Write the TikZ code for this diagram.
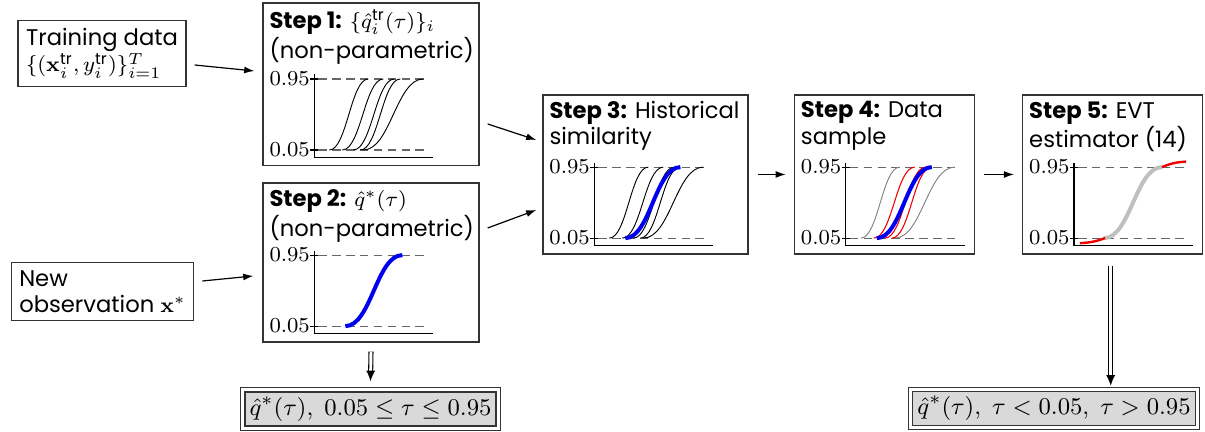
\documentclass[tikz,border=0pt]{standalone}
\usepackage{amsmath,amssymb}
\usepackage[no-math]{fontspec}
\setmainfont{Poppins}
\usetikzlibrary{arrows.meta,positioning,calc}
\definecolor{qblue}{HTML}{0000F0}
\definecolor{qred}{HTML}{F00000}
\tikzset{
  inbox/.style={draw=black!80,line width=.5pt,align=left,inner sep=3pt},
  stepbox/.style={draw=black!80,line width=.5pt,minimum width=#1,minimum height=59.6pt},
  title/.style={anchor=north west,align=left,inner sep=2.5pt},
  outbox/.style={draw=black!80,double,double distance=1.1pt,line width=.45pt,fill=black!15,
    inner sep=2.5pt,font=\fontsize{9.4}{11}\selectfont},
  flow/.style={-{Latex[length=3.8pt,width=2.6pt]},line width=.45pt},
  dflow/.style={double,double distance=1.1pt,line width=.4pt,-{Latex[length=4pt,width=3.4pt]}},
  guide/.style={dashed,dash pattern=on 3.2pt off 2pt,black!60,line width=.45pt},
  axis/.style={black,line width=.45pt},
  ticklabel/.style={anchor=east,inner sep=0pt},
  thincurve/.style={black,line width=.35pt},
  graycurve/.style={black!50,line width=.35pt},
  redcurve/.style={qred,line width=.4pt},
  bluecurve/.style={qblue,line width=1.5pt},
  evtcurve/.style={black!25,line width=1.5pt},
  tailcurve/.style={qred,line width=.9pt}
}
% one quantile curve between the 0.05 and 0.95 levels
\newcommand{\qcurve}[3][thincurve]{%
  \pgfmathsetmacro\cw{0.45*(#3-#2)}%
  \draw[#1] (#2,-7.5) .. controls +(\cw,0) and +(-\cw,0) .. (#3,-78.5);}
% axes with the two dashed levels, placed in the lower part of a step box
\newcommand{\quantplot}[2]{%
  \begin{scope}[shift={($(#1.south west)+(52,-9)$)}]
    \draw[guide] (4,-7.5) -- (111,-7.5);
    \draw[guide] (4,-78.5) -- (111,-78.5);
    \draw[axis] (0,-83) -- (0,0) -- (119,0);
    \draw[axis] (-4,-7.5) -- (4,-7.5);
    \draw[axis] (-4,-78.5) -- (4,-78.5);
    \node[ticklabel] (#1lo) at (-4,-7.5) {$0.05$};
    \node[ticklabel] (#1hi) at (-4,-78.5) {$0.95$};
    #2
  \end{scope}}

\begin{document}
\begin{tikzpicture}[x=0.375pt,y=-0.375pt,font=\fontsize{8.5}{9.8}\selectfont]
  \useasboundingbox (0,0) rectangle (1205,432);
  % inputs
  \node[inbox] (train) at (102,53.5) {Training data\\$\{(\mathbf{x}_i^{\text{tr}},y_i^{\text{tr}})\}_{i=1}^T$};
  \node[inbox] (new) at (102.5,291.5) {New\\observation $\mathbf{x}^*$};
  % steps
  \node[stepbox=81pt,minimum height=61pt] (s1) at (371,84.5) {};
  \node[stepbox=81pt] (s2) at (371,262.5) {};
  \node[stepbox=76.9pt] (s3) at (645.5,174.5) {};
  \node[stepbox=67.5pt,right=16.9pt of s3] (s4) {};
  \node[stepbox=67.5pt,right=17.6pt of s4] (s5) {};
  \node[title] (t1) at (s1.north west) {\textbf{Step 1:} $\{\hat q_i^{\text{tr}}(\tau)\}_i$\\(non-parametric)};
  \node[title] (t2) at (s2.north west) {\textbf{Step 2:} $\hat q^*(\tau)$\\(non-parametric)};
  \node[title] (t3) at (s3.north west) {\textbf{Step 3:} Historical\\similarity};
  \node[title] (t4) at (s4.north west) {\textbf{Step 4:} Data\\sample};
  \node[title] (t5) at (s5.north west) {\textbf{Step 5:} EVT\\estimator (14)};
  % plots
  \quantplot{s1}{\foreach \a/\b in {15/54,28/69,39/80,46/86,49/109} {\qcurve{\a}{\b}}}
  \quantplot{s2}{\qcurve[bluecurve]{31}{88}}
  \quantplot{s3}{\foreach \a/\b in {15/54,28/69,39/80,46/86,49/109} {\qcurve{\a}{\b}}
    \qcurve[bluecurve]{31}{86}}
  \quantplot{s4}{\qcurve[graycurve]{15}{54}\qcurve[graycurve]{49}{109}
    \foreach \a/\b in {28/69,39/80,46/86} {\qcurve[redcurve]{\a}{\b}}
    \qcurve[bluecurve]{31}{86}}
  \quantplot{s5}{\qcurve[evtcurve]{30}{88}
    \draw[tailcurve] (6,-2.5) .. controls (18,-3) and (24,-5) .. (31,-7.5);
    \draw[tailcurve] (88,-78.5) .. controls (96,-82) and (102,-83.5) .. (112,-84);}
  % outputs
  \node[outbox] (out1) at (370.5,409) {$\hat q^*(\tau),\; 0.05\le\tau\le0.95$};
  \node[outbox] (out2) at (1054,408.5) {$\hat q^*(\tau),\; \tau<0.05,\; \tau>0.95$};
  % connectors
  \draw[flow] ($(train.east)+(8,11.5)$) -- ($(s1.west)+(-8,-13.5)$);
  \draw[flow] ($(new.east)+(8,-10.5)$) -- ($(s2.west)+(-9,13.5)$);
  \draw[flow] ($(s1.east)+(8,39.5)$) -- ($(s3.west)+(-6,-34.5)$);
  \draw[flow] ($(s2.east)+(8,-34.5)$) -- ($(s3.west)+(-6,35.5)$);
  \draw[flow] ($(s3.east)+(9,0)$) -- ($(s4.west)+(-8,0)$);
  \draw[flow] ($(s4.east)+(9,0)$) -- ($(s5.west)+(-8,0)$);
  \draw[dflow] ($(s2.south)+(0,9)$) -- ($(out1.north)+(0,-8)$);
  \draw[dflow] ($(s5.south)+(-2,11)$) -- ($(s5.south |- out2.north)+(-2,-3)$);
\end{tikzpicture}
\end{document}
